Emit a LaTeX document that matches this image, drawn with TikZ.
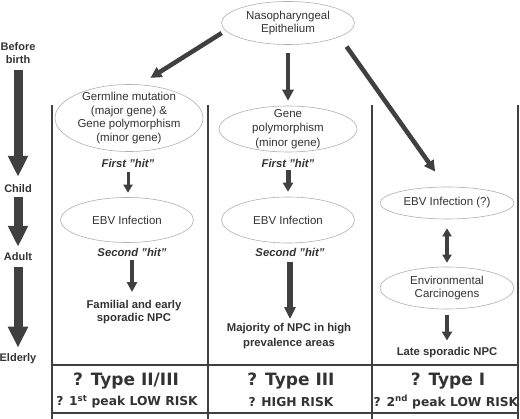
\documentclass[tikz,border=0pt]{standalone}
\usepackage{fontspec}
\setmainfont{Liberation Sans}
\newfontfamily\verd{DejaVu Sans}
\usetikzlibrary{arrows.meta,shapes.geometric}
\definecolor{txtc}{HTML}{333333}
\definecolor{arrc}{HTML}{404040}
\definecolor{ellc}{HTML}{B0B0B0}
\newcommand{\dq}{\symbol{34}}
\begin{document}
\begin{tikzpicture}[x=1pt,y=-1pt,
 oval/.style={ellipse, draw=ellc, line width=0.6pt, inner sep=-20pt, text=txtc,
   font=\fontsize{11.5}{13.5}\selectfont, align=center},
 lbl/.style={inner sep=0pt, text=txtc, font=\bfseries\fontsize{11.3}{13}\selectfont, align=center},
 hitlbl/.style={inner sep=0pt, text=txtc, font=\bfseries\itshape\fontsize{11.3}{13}\selectfont},
 tlbl/.style={inner sep=0pt, text=txtc, font=\bfseries\fontsize{11}{13}\selectfont, align=center},
 typlbl/.style={inner sep=0pt, text=txtc, font=\verd\bfseries\fontsize{17}{20}\selectfont},
 risklbl/.style={inner sep=0pt, text=txtc, font=\verd\bfseries\fontsize{12.3}{14}\selectfont},
 tarr/.style={draw=arrc, line width=9pt, -{Triangle[length=21pt,width=19pt]}},
 darr/.style={draw=arrc, line width=4.5pt, -{Triangle[length=11pt,width=11pt]}},
 sarr/.style={draw=arrc, line width=3pt, -{Triangle[length=8pt,width=9pt]}},
 marr/.style={draw=arrc, line width=5pt, -{Triangle[length=9pt,width=10pt]}},
 barr/.style={draw=arrc, line width=6.5pt, -{Triangle[length=12pt,width=11pt]}},
 dblarr/.style={draw=arrc, line width=3.5pt, {Triangle[length=8pt,width=9pt]}-{Triangle[length=8pt,width=9pt]}},
 tabline/.style={draw=arrc, line width=1.2pt}
]
\fill[white] (0,0) rectangle (520,419);
\useasboundingbox (0,0) rectangle (520,419);

% table lines
\draw[tabline] (52,105) -- (52,419);
\draw[tabline] (208,105) -- (208,419);
\draw[tabline] (372,105) -- (372,419);
\draw[tabline] (518,105) -- (518,419);
\draw[tabline] (52,365) -- (518,365);
\draw[tabline] (52,413) -- (518,413);

% timeline
\node[tlbl] (before) at (18,53.5) {Before\\birth};
\node[tlbl] (child) at (18,189) {Child};
\node[tlbl] (adult) at (18,257) {Adult};
\node[tlbl] (elderly) at (18,359) {Elderly};
\draw[tarr, shorten <=6pt, shorten >=8pt] (before.south) -- (child.north);
\draw[tarr, shorten <=4pt, shorten >=6pt] (child.south) -- (adult.north);
\draw[tarr, shorten <=6pt, shorten >=6pt] (adult.south) -- (elderly.north);

% top
\node[oval, minimum width=133pt, minimum height=43pt] (nas) at (288,23) {Nasopharyngeal\\Epithelium};

% left column
\node[oval, minimum width=148pt, minimum height=67pt] (germ) at (129,118)
  {Germline mutation\\(major gene) \&\\Gene polymorphism\\(minor gene)};
\node[hitlbl] (hit1) at (128,163) {First \dq hit\dq};
\node[oval, minimum width=133pt, minimum height=45pt] (ebv1) at (127,220) {EBV Infection};
\node[hitlbl] (sec1) at (132,252) {Second \dq hit\dq};
\node[lbl] (fam) at (134,312) {Familial and early\\sporadic NPC};

% middle column
\node[oval, minimum width=138pt, minimum height=46pt, font=\fontsize{11.5}{14.5}\selectfont] (gpoly) at (288,129)
  {Gene\\polymorphism\\(minor gene)};
\node[hitlbl] (hit2) at (288,163) {First \dq hit\dq};
\node[oval, minimum width=133pt, minimum height=46pt] (ebv2) at (288,220) {EBV Infection};
\node[hitlbl] (sec2) at (290,252) {Second \dq hit\dq};
\node[lbl, font=\bfseries\fontsize{11.3}{15}\selectfont] (maj) at (289,336) {Majority of NPC in high\\prevalence areas};

% right column
\node[oval, minimum width=134pt, minimum height=32pt] (ebv3) at (447,203) {EBV Infection (?)};
\node[oval, minimum width=134pt, minimum height=42pt] (env) at (447,288) {Environmental\\Carcinogens};
\node[lbl] (late) at (447,353) {Late sporadic NPC};

% bottom row
\node[typlbl] (t1) at (126,381) {? Type II/III};
\node[typlbl] (t2) at (291,381) {? Type III};
\node[typlbl] (t3) at (448,381) {? Type I};
\node[risklbl] (r1) at (127,402) {? 1\textsuperscript{st} peak LOW RISK};
\node[risklbl] (r2) at (291,402) {? HIGH RISK};
\node[risklbl] (r3) at (446,402) {? 2\textsuperscript{nd} peak LOW RISK};

% connectors
\draw[darr, shorten <=4.5pt, shorten >=12.5pt] (nas.187) -- (germ.72.5);
\draw[darr, shorten <=8.5pt, shorten >=5pt] (nas.south) -- (gpoly.north);
\draw[darr, shorten <=12pt, shorten >=18.5pt] (nas.-15.9) -- (ebv3.94.3);

\draw[sarr, shorten <=5pt, shorten >=4.5pt] (hit1.south) -- (hit1.south |- ebv1.north);
\draw[sarr, line width=3.5pt, -{Triangle[length=10pt,width=10pt]}, shorten <=4pt, shorten >=8pt] (sec1.south) -- (sec1.south |- fam.north);

\draw[marr, shorten <=3pt, shorten >=5pt] (hit2.south) -- (hit2.south |- ebv2.north);
\draw[barr, shorten <=6pt, shorten >=4pt] (sec2.south) -- (sec2.south |- maj.north);

\draw[dblarr, shorten <=9pt, shorten >=4pt] (ebv3.south) -- (env.north);
\draw[marr, line width=4.5pt, shorten <=6pt, shorten >=7pt] (env.south) -- (late.north);
\end{tikzpicture}
\end{document}
